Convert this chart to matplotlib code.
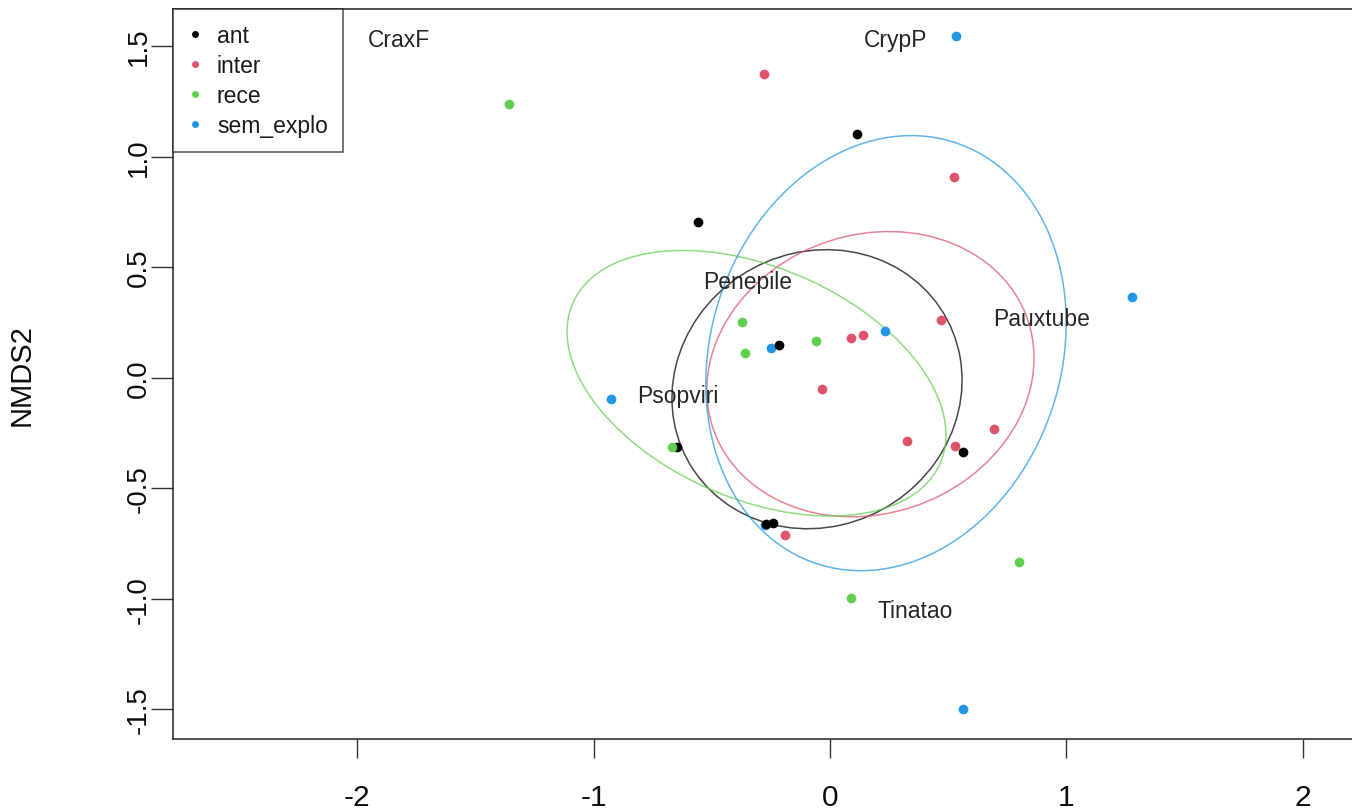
import matplotlib
matplotlib.use("Agg")
import matplotlib.pyplot as plt
from matplotlib.patches import Ellipse
from matplotlib.lines import Line2D

plt.rcParams['font.family'] = ['Liberation Sans', 'DejaVu Sans']

# ---- data ----
groups = ["ant", "inter", "rece", "sem_explo"]
group_colors = ["#000000", "#DF536B", "#61D04F", "#2297E6"]

ant_x = [0.114, -0.558, -0.216, -0.647, 0.562, -0.271, -0.241]
ant_y = [1.103, 0.706, 0.147, -0.314, -0.336, -0.661, -0.657]

inter_x = [-0.279, 0.524, 0.469, 0.089, 0.140, -0.034, 0.326, 0.529, 0.693, -0.190]
inter_y = [1.374, 0.909, 0.259, 0.178, 0.192, -0.052, -0.287, -0.309, -0.232, -0.711]

rece_x = [-1.357, -0.372, -0.359, -0.059, -0.668, 0.799, 0.089]
rece_y = [1.239, 0.250, 0.110, 0.165, -0.314, -0.833, -0.995]

sem_x = [0.533, 1.277, 0.233, -0.249, -0.926, -0.275, 0.562]
sem_y = [1.546, 0.363, 0.210, 0.133, -0.097, -0.666, -1.500]

# ellipse (sd) parameters per group: centre, semi-axes, rotation (deg, data space)
ell_cx = [-0.055, 0.171, -0.311, 0.237]
ell_cy = [-0.052, 0.016, -0.025, 0.111]
ell_a = [0.644, 0.712, 0.858, 0.997]
ell_b = [0.600, 0.623, 0.517, 0.745]
ell_ang = [56.4, 28.9, -26.5, 75.8]

species = ["CraxF", "CrypP", "Penepile", "Pauxtube", "Psopviri", "Tinatao"]
species_x = [-1.824, 0.279, -0.347, 0.897, -0.643, 0.360]
species_y = [1.527, 1.527, 0.435, 0.268, -0.079, -1.053]

xticks = [-2, -1, 0, 1, 2]
xtick_labels = ["-2", "-1", "0", "1", "2"]
yticks = [-1.5, -1.0, -0.5, 0.0, 0.5, 1.0, 1.5]
ytick_labels = ["-1.5", "-1.0", "-0.5", "0.0", "0.5", "1.0", "1.5"]

# ---- figure ----
W, H = 1352, 812
fig = plt.figure(figsize=(W / 100, H / 100), dpi=100)
left_px, right_px, top_px, bottom_px = 173, 1366, 10, 740
ax = fig.add_axes([left_px / W, 1 - bottom_px / H,
                   (right_px - left_px) / W, (bottom_px - top_px) / H])
ax.set_xlim(-2.780, 2.268)
ax.set_ylim(-1.6335, 1.667)

# ellipses
for cx, cy, a, b, ang, col in zip(ell_cx, ell_cy, ell_a, ell_b, ell_ang, group_colors):
    e = Ellipse((cx, cy), 2 * a, 2 * b, angle=ang, fill=False,
                edgecolor=col, linewidth=1.1, alpha=0.72, zorder=2)
    ax.add_patch(e)

# points (draw order: sem_explo, inter, ant, rece)
series = {
    "ant": (ant_x, ant_y),
    "inter": (inter_x, inter_y),
    "rece": (rece_x, rece_y),
    "sem_explo": (sem_x, sem_y),
}
for g in ["sem_explo", "inter", "ant", "rece"]:
    xs, ys = series[g]
    col = group_colors[groups.index(g)]
    ax.plot(xs, ys, linestyle="none", marker="o", markersize=7.0,
            markerfacecolor=col, markeredgewidth=0, color=col, zorder=3)

# species labels
for name, sx, sy in zip(species, species_x, species_y):
    ax.text(sx, sy, name, ha="center", va="center", fontsize=16.5,
            color="#262626", zorder=4)

# axes styling
for side in ["left", "bottom", "top"]:
    ax.spines[side].set_linewidth(1.1)
    ax.spines[side].set_color("#222222")
ax.spines["right"].set_visible(False)

ax.set_xticks(xticks)
ax.set_xticklabels(xtick_labels)
ax.set_yticks(yticks)
ax.set_yticklabels(ytick_labels, rotation=90, va="center")
ax.tick_params(axis="x", length=14, width=1.0, color="#333333",
               labelsize=21.5, pad=18, labelcolor="#0d0d0d")
ax.tick_params(axis="y", length=15.5, width=1.0, color="#333333",
               labelsize=20, pad=0, labelcolor="#0d0d0d")

ax.set_ylabel("NMDS2", fontsize=21, color="#0d0d0d")
ax.yaxis.set_label_coords((36 - left_px) / (right_px - left_px), 0.5)

# legend
handles = [Line2D([0], [0], linestyle="none", marker="o", markersize=5,
                  markerfacecolor=c, markeredgewidth=0) for c in group_colors]
leg = ax.legend(handles, groups, loc="upper left", bbox_to_anchor=(0, 1),
                borderaxespad=0, fontsize=16.5, frameon=True, fancybox=False,
                handlelength=0.63, handletextpad=0.63, borderpad=0.66,
                labelspacing=0.3)
leg.get_frame().set_edgecolor("#222222")
leg.get_frame().set_linewidth(1.1)
for t in leg.get_texts():
    t.set_color("#1a1a1a")

fig.savefig("out.png", dpi=100)
